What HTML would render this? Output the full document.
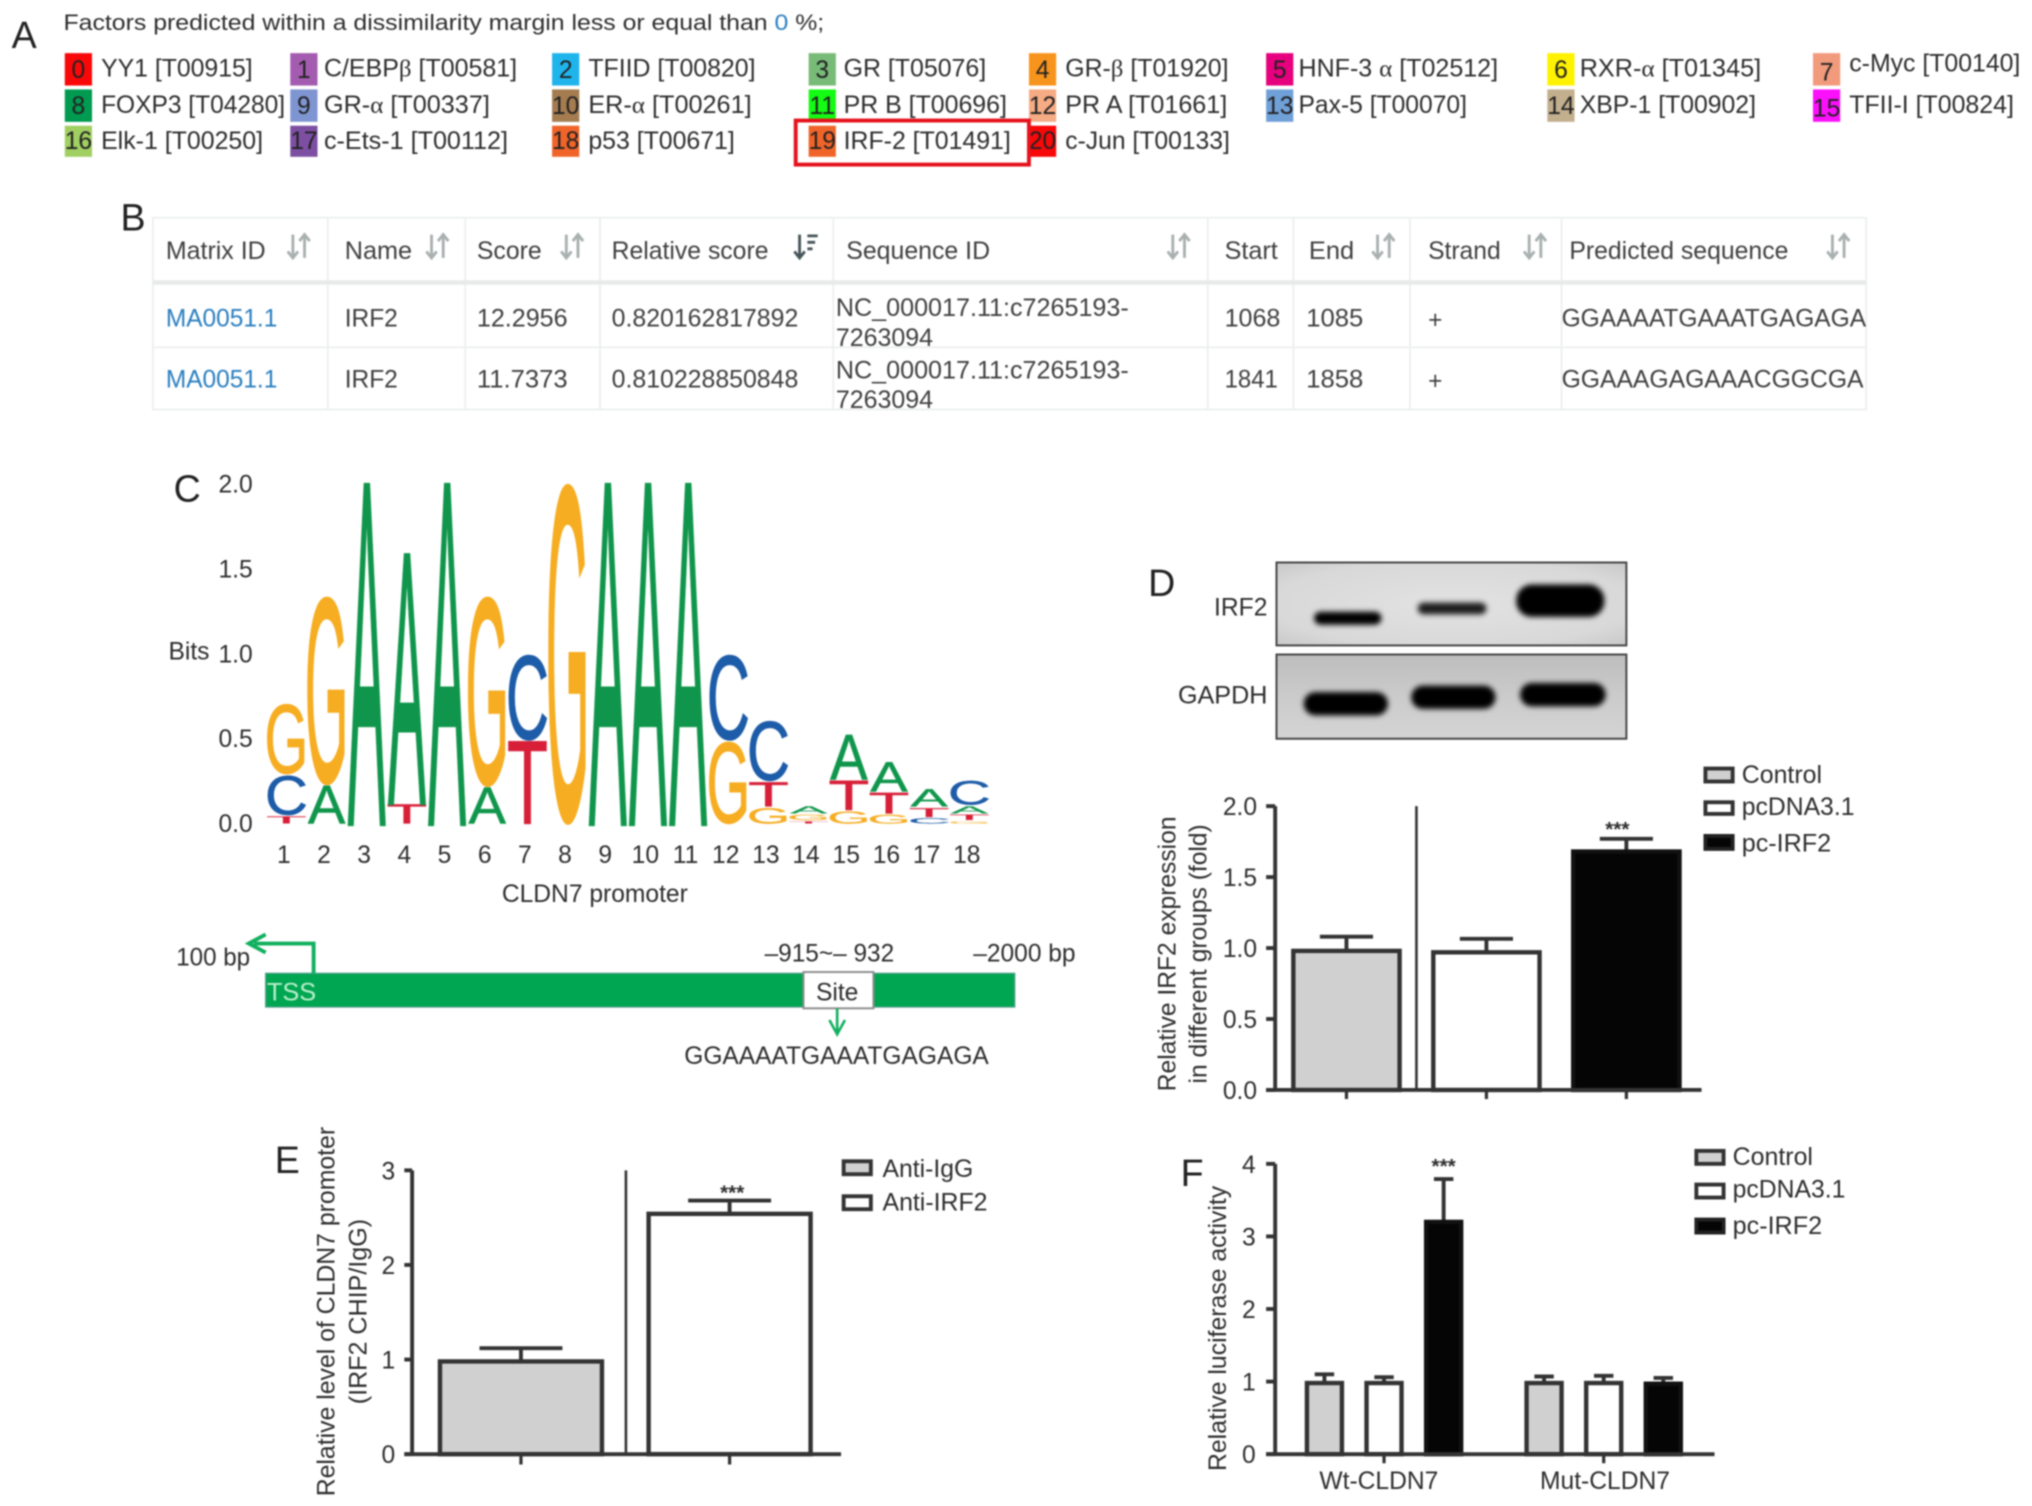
<!DOCTYPE html>
<html lang="en">
<head>
<meta charset="utf-8">
<title>IRF2 binding to the CLDN7 promoter figure</title>
<style>
html,body{margin:0;padding:0;background:#fff;width:2032px;height:1506px;overflow:hidden}
svg{display:block;filter:blur(0.8px)}
text{font-family:"Liberation Sans",sans-serif;fill:#2e2e2e}
.p{font-size:29px;fill:#222}
.a{font-size:19px;fill:#2e2e2e}
.n{font-size:19px;fill:#222;text-anchor:middle}
.g{font-family:"Liberation Serif",serif}
.t{font-size:19px;fill:#404040}
.link{fill:#2a7fc0}
.sort{stroke:#a9b0b0;stroke-width:2.2;fill:none}
.sortd{stroke:#47555a;stroke-width:2.2;fill:none}
.rl{stroke:#eef0f0;stroke-width:1.5;fill:none}
.leg{font-size:19px;fill:#2e2e2e}
</style>
</head>
<body>
<svg id="figure" xmlns="http://www.w3.org/2000/svg" width="2032" height="1506" viewBox="0 0 1568 1162" preserveAspectRatio="none">
<defs>
<filter id="band-blur" x="-30%" y="-80%" width="160%" height="260%"><feGaussianBlur stdDeviation="2"/></filter>
<radialGradient id="blot-a" cx="0.5" cy="0.5" r="0.75"><stop offset="0" stop-color="#e2e2e2"/><stop offset="0.7" stop-color="#d8d8d8"/><stop offset="1" stop-color="#c4c4c4"/></radialGradient>
<linearGradient id="blot-b" x1="0" y1="0" x2="0" y2="1"><stop offset="0" stop-color="#bdbdbd"/><stop offset="0.5" stop-color="#cbcbcb"/><stop offset="1" stop-color="#d4d4d4"/></linearGradient>
</defs>

<!-- Panel letters -->
<text class="p" x="9" y="37">A</text>
<text class="p" x="93" y="178">B</text>
<text class="p" x="134" y="387">C</text>
<text class="p" x="886" y="460">D</text>
<text class="p" x="212" y="905">E</text>
<text class="p" x="911" y="915">F</text>

<!-- Panel A -->
<g>
<text x="49" y="23" font-size="17" textLength="587" lengthAdjust="spacingAndGlyphs">Factors predicted within a dissimilarity margin less or equal than <tspan class="link">0</tspan> %;</text>

<g><rect x="50" y="41" width="21" height="25" fill="#f80808"/><text class="n" x="60.5" y="60">0</text><text class="a" x="78" y="59" textLength="117" lengthAdjust="spacingAndGlyphs">YY1 [T00915]</text></g>
<g><rect x="224" y="41" width="21" height="25" fill="#a45cb0"/><text class="n" x="234.5" y="60">1</text><text class="a" x="250" y="59" textLength="149" lengthAdjust="spacingAndGlyphs">C/EBP<tspan class="g">β</tspan> [T00581]</text></g>
<g><rect x="426" y="41" width="21" height="25" fill="#1fb5ec"/><text class="n" x="436.5" y="60">2</text><text class="a" x="454" y="59" textLength="129" lengthAdjust="spacingAndGlyphs">TFIID [T00820]</text></g>
<g><rect x="624" y="41" width="21" height="25" fill="#78bb78"/><text class="n" x="634.5" y="60">3</text><text class="a" x="651" y="59" textLength="110" lengthAdjust="spacingAndGlyphs">GR [T05076]</text></g>
<g><rect x="794" y="41" width="21" height="25" fill="#f7941d"/><text class="n" x="804.5" y="60">4</text><text class="a" x="822" y="59" textLength="126" lengthAdjust="spacingAndGlyphs">GR-<tspan class="g">β</tspan> [T01920]</text></g>
<g><rect x="977" y="41" width="21" height="25" fill="#e6007e"/><text class="n" x="987.5" y="60">5</text><text class="a" x="1002" y="59" textLength="154" lengthAdjust="spacingAndGlyphs">HNF-3 <tspan class="g">α</tspan> [T02512]</text></g>
<g><rect x="1194" y="41" width="21" height="25" fill="#fff200"/><text class="n" x="1204.5" y="60">6</text><text class="a" x="1219" y="59" textLength="140" lengthAdjust="spacingAndGlyphs">RXR-<tspan class="g">α</tspan> [T01345]</text></g>
<g><rect x="1399" y="41" width="21" height="25" fill="#f19a7c"/><text class="n" x="1409.5" y="62">7</text><text class="a" x="1427" y="55" textLength="132" lengthAdjust="spacingAndGlyphs">c-Myc [T00140]</text></g>

<g><rect x="50" y="69" width="21" height="25" fill="#009a50"/><text class="n" x="60.5" y="88">8</text><text class="a" x="78" y="87" textLength="142" lengthAdjust="spacingAndGlyphs">FOXP3 [T04280]</text></g>
<g><rect x="224" y="69" width="21" height="25" fill="#7f95d2"/><text class="n" x="234.5" y="88">9</text><text class="a" x="250" y="87" textLength="128" lengthAdjust="spacingAndGlyphs">GR-<tspan class="g">α</tspan> [T00337]</text></g>
<g><rect x="426" y="69" width="21" height="25" fill="#a47c50"/><text class="n" x="436.5" y="88">10</text><text class="a" x="454" y="87" textLength="126" lengthAdjust="spacingAndGlyphs">ER-<tspan class="g">α</tspan> [T00261]</text></g>
<g><rect x="624" y="69" width="21" height="25" fill="#14fb14"/><text class="n" x="634.5" y="88">11</text><text class="a" x="651" y="87" textLength="126" lengthAdjust="spacingAndGlyphs">PR B [T00696]</text></g>
<g><rect x="794" y="69" width="21" height="25" fill="#f5ab84"/><text class="n" x="804.5" y="88">12</text><text class="a" x="822" y="87" textLength="125" lengthAdjust="spacingAndGlyphs">PR A [T01661]</text></g>
<g><rect x="977" y="69" width="21" height="25" fill="#70a0d8"/><text class="n" x="987.5" y="88">13</text><text class="a" x="1002" y="87" textLength="130" lengthAdjust="spacingAndGlyphs">Pax-5 [T00070]</text></g>
<g><rect x="1194" y="69" width="21" height="25" fill="#c2af8e"/><text class="n" x="1204.5" y="88">14</text><text class="a" x="1219" y="87" textLength="136" lengthAdjust="spacingAndGlyphs">XBP-1 [T00902]</text></g>
<g><rect x="1399" y="69" width="21" height="25" fill="#fb10fb"/><text class="n" x="1409.5" y="90">15</text><text class="a" x="1427" y="87" textLength="127" lengthAdjust="spacingAndGlyphs">TFII-I [T00824]</text></g>

<g><rect x="50" y="97" width="21" height="24" fill="#a0cf62"/><text class="n" x="60.5" y="115">16</text><text class="a" x="78" y="115" textLength="125" lengthAdjust="spacingAndGlyphs">Elk-1 [T00250]</text></g>
<g><rect x="224" y="97" width="21" height="24" fill="#7c4fa2"/><text class="n" x="234.5" y="115">17</text><text class="a" x="250" y="115" textLength="142" lengthAdjust="spacingAndGlyphs">c-Ets-1 [T00112]</text></g>
<g><rect x="426" y="97" width="21" height="24" fill="#f0642a"/><text class="n" x="436.5" y="115">18</text><text class="a" x="454" y="115" textLength="113" lengthAdjust="spacingAndGlyphs">p53 [T00671]</text></g>
<g><rect x="624" y="97" width="21" height="24" fill="#f0642a"/><text class="n" x="634.5" y="115">19</text><text class="a" x="651" y="115" textLength="129" lengthAdjust="spacingAndGlyphs">IRF-2 [T01491]</text></g>
<g><rect x="794" y="97" width="21" height="24" fill="#f80808"/><text class="n" x="804.5" y="115">20</text><text class="a" x="822" y="115" textLength="127" lengthAdjust="spacingAndGlyphs">c-Jun [T00133]</text></g>
<rect x="614" y="93" width="180" height="34" fill="none" stroke="#e5121c" stroke-width="3"/>
</g>

<!-- Panel B -->
<g>
<rect class="rl" x="118" y="168" width="1322" height="148"/>
<path class="rl" d="M253 168V316M359 168V316M463 168V316M643 168V316M932 168V316M998 168V316M1088 168V316M1205 168V316M118 268H1440"/>
<path d="M118 218H1440" stroke="#e8eaea" stroke-width="3.5" fill="none"/>

<text class="t" x="128" y="200" textLength="77" lengthAdjust="spacingAndGlyphs">Matrix ID</text>
<text class="t" x="266" y="200" textLength="52" lengthAdjust="spacingAndGlyphs">Name</text>
<text class="t" x="368" y="200" textLength="50" lengthAdjust="spacingAndGlyphs">Score</text>
<text class="t" x="472" y="200" textLength="121" lengthAdjust="spacingAndGlyphs">Relative score</text>
<text class="t" x="653" y="200" textLength="111" lengthAdjust="spacingAndGlyphs">Sequence ID</text>
<text class="t" x="945" y="200" textLength="41" lengthAdjust="spacingAndGlyphs">Start</text>
<text class="t" x="1010" y="200" textLength="35" lengthAdjust="spacingAndGlyphs">End</text>
<text class="t" x="1102" y="200" textLength="56" lengthAdjust="spacingAndGlyphs">Strand</text>
<text class="t" x="1211" y="200" textLength="169" lengthAdjust="spacingAndGlyphs">Predicted sequence</text>

<path class="sort" d="M226 181V198M222 194l4 5 4-5M235 199V182M231 186l4-5 4 5"/>
<path class="sort" d="M333 181V198M329 194l4 5 4-5M342 199V182M338 186l4-5 4 5"/>
<path class="sort" d="M437 181V198M433 194l4 5 4-5M446 199V182M442 186l4-5 4 5"/>
<path class="sortd" d="M617 181V198M613 194l4 5 4-5M623 182H631M623 187H629M623 192H627"/>
<path class="sort" d="M905 181V198M901 194l4 5 4-5M914 199V182M910 186l4-5 4 5"/>
<path class="sort" d="M1063 181V198M1059 194l4 5 4-5M1072 199V182M1068 186l4-5 4 5"/>
<path class="sort" d="M1180 181V198M1176 194l4 5 4-5M1189 199V182M1185 186l4-5 4 5"/>
<path class="sort" d="M1414 181V198M1410 194l4 5 4-5M1423 199V182M1419 186l4-5 4 5"/>

<g>
<text class="link" font-size="19" x="128" y="252" textLength="86" lengthAdjust="spacingAndGlyphs">MA0051.1</text>
<text class="t" x="266" y="252" textLength="41" lengthAdjust="spacingAndGlyphs">IRF2</text>
<text class="t" x="368" y="252" textLength="70" lengthAdjust="spacingAndGlyphs">12.2956</text>
<text class="t" x="472" y="252" textLength="144" lengthAdjust="spacingAndGlyphs">0.820162817892</text>
<text class="t" x="645" y="244" textLength="226" lengthAdjust="spacingAndGlyphs">NC_000017.11:c7265193-</text>
<text class="t" x="645" y="267" textLength="75" lengthAdjust="spacingAndGlyphs">7263094</text>
<text class="t" x="945" y="252" textLength="43" lengthAdjust="spacingAndGlyphs">1068</text>
<text class="t" x="1008" y="252" textLength="44" lengthAdjust="spacingAndGlyphs">1085</text>
<text class="t" x="1102" y="253" textLength="11" lengthAdjust="spacingAndGlyphs">+</text>
<text class="t" x="1205" y="252" textLength="235" lengthAdjust="spacingAndGlyphs">GGAAAATGAAATGAGAGA</text>
</g>
<g>
<text class="link" font-size="19" x="128" y="299" textLength="86" lengthAdjust="spacingAndGlyphs">MA0051.1</text>
<text class="t" x="266" y="299" textLength="41" lengthAdjust="spacingAndGlyphs">IRF2</text>
<text class="t" x="368" y="299" textLength="70" lengthAdjust="spacingAndGlyphs">11.7373</text>
<text class="t" x="472" y="299" textLength="144" lengthAdjust="spacingAndGlyphs">0.810228850848</text>
<text class="t" x="645" y="292" textLength="226" lengthAdjust="spacingAndGlyphs">NC_000017.11:c7265193-</text>
<text class="t" x="645" y="315" textLength="75" lengthAdjust="spacingAndGlyphs">7263094</text>
<text class="t" x="945" y="299" textLength="41" lengthAdjust="spacingAndGlyphs">1841</text>
<text class="t" x="1008" y="299" textLength="44" lengthAdjust="spacingAndGlyphs">1858</text>
<text class="t" x="1102" y="300" textLength="11" lengthAdjust="spacingAndGlyphs">+</text>
<text class="t" x="1205" y="299" textLength="233" lengthAdjust="spacingAndGlyphs">GGAAAGAGAAACGGCGA</text>
</g>
</g>

<!-- Panel C logo container, filled by script -->
<g id="logo"></g>

<!-- Promoter diagram -->
<g>
<rect x="205" y="751" width="578" height="26" fill="#00a651" stroke="#4f9f88" stroke-width="1"/>
<path d="M242 751V728H196" stroke="#12b060" stroke-width="3" fill="none"/>
<path d="M205 721L192 728L205 735" stroke="#12b060" stroke-width="3" fill="none"/>
<text x="206" y="772" font-size="19" style="fill:#b9f0cc" textLength="38" lengthAdjust="spacingAndGlyphs">TSS</text>
<text x="136" y="745" font-size="19" textLength="57" lengthAdjust="spacingAndGlyphs">100 bp</text>
<text x="590" y="742" font-size="19" textLength="100" lengthAdjust="spacingAndGlyphs">–915~– 932</text>
<text x="751" y="742" font-size="19" textLength="79" lengthAdjust="spacingAndGlyphs">–2000 bp</text>
<rect x="620" y="750" width="54" height="28" fill="#fff" stroke="#8c8c8c" stroke-width="1.5"/>
<text x="646" y="772" font-size="19" text-anchor="middle">Site</text>
<path d="M646 778V797M640 787L646 798L652 787" stroke="#12b060" stroke-width="2" fill="none"/>
<text x="528" y="821" font-size="19" textLength="235" lengthAdjust="spacingAndGlyphs">GGAAAATGAAATGAGAGA</text>
</g>

<!-- Western blot -->
<g>
<rect x="985" y="434" width="270" height="64" fill="url(#blot-a)" stroke="#444" stroke-width="1.5"/>
<rect x="985" y="505" width="270" height="65" fill="url(#blot-b)" stroke="#444" stroke-width="1.5"/>
<g filter="url(#band-blur)" fill="#060606">
<rect x="1014" y="472" width="52" height="10" rx="5"/>
<rect x="1094" y="465" width="53" height="9" rx="4.5" fill="#1c1c1c"/>
<rect x="1170" y="451" width="68" height="25" rx="12"/>
<rect x="1006" y="534" width="65" height="18" rx="9"/>
<rect x="1089" y="529" width="65" height="18" rx="9"/>
<rect x="1173" y="527" width="66" height="18" rx="9"/>
</g>
<text x="978" y="475" font-size="19" text-anchor="end">IRF2</text>
<text x="909" y="543" font-size="19" textLength="69" lengthAdjust="spacingAndGlyphs">GAPDH</text>
</g>

<!-- Chart D -->
<g id="chart-d">
<text transform="translate(907,736) rotate(-90)" font-size="19" text-anchor="middle" textLength="212" lengthAdjust="spacingAndGlyphs">Relative IRF2 expression</text>
<text transform="translate(931,736) rotate(-90)" font-size="19" text-anchor="middle" textLength="200" lengthAdjust="spacingAndGlyphs">in different groups (fold)</text>
<g>
<rect x="1316" y="593" width="21" height="10" fill="#d0d0d0" stroke="#333" stroke-width="3"/>
<text class="leg" x="1344" y="604" textLength="62" lengthAdjust="spacingAndGlyphs">Control</text>
<rect x="1316" y="619" width="21" height="9" fill="#fff" stroke="#333" stroke-width="3"/>
<text class="leg" x="1344" y="629" textLength="87" lengthAdjust="spacingAndGlyphs">pcDNA3.1</text>
<rect x="1316" y="645" width="21" height="10" fill="#050505" stroke="#222" stroke-width="3"/>
<text class="leg" x="1344" y="657" textLength="69" lengthAdjust="spacingAndGlyphs">pc-IRF2</text>
</g>
</g>

<!-- Chart E -->
<g id="chart-e">
<text transform="translate(258,1012) rotate(-90)" font-size="19" text-anchor="middle" textLength="285" lengthAdjust="spacingAndGlyphs">Relative level of CLDN7 promoter</text>
<text transform="translate(283,1012) rotate(-90)" font-size="19" text-anchor="middle" textLength="143" lengthAdjust="spacingAndGlyphs">(IRF2 CHIP/IgG)</text>
<g>
<rect x="651" y="896" width="21" height="10" fill="#d0d0d0" stroke="#333" stroke-width="3"/>
<text class="leg" x="681" y="908" textLength="70" lengthAdjust="spacingAndGlyphs">Anti-IgG</text>
<rect x="651" y="923" width="21" height="10" fill="#fff" stroke="#333" stroke-width="3"/>
<text class="leg" x="681" y="934" textLength="81" lengthAdjust="spacingAndGlyphs">Anti-IRF2</text>
</g>
</g>

<!-- Chart F -->
<g id="chart-f">
<text transform="translate(946,1025) rotate(-90)" font-size="19" text-anchor="middle" textLength="220" lengthAdjust="spacingAndGlyphs">Relative luciferase activity</text>
<g>
<rect x="1309" y="888" width="21" height="10" fill="#d0d0d0" stroke="#333" stroke-width="3"/>
<text class="leg" x="1337" y="899" textLength="62" lengthAdjust="spacingAndGlyphs">Control</text>
<rect x="1309" y="914" width="21" height="10" fill="#fff" stroke="#333" stroke-width="3"/>
<text class="leg" x="1337" y="924" textLength="87" lengthAdjust="spacingAndGlyphs">pcDNA3.1</text>
<rect x="1309" y="941" width="21" height="10" fill="#050505" stroke="#222" stroke-width="3"/>
<text class="leg" x="1337" y="952" textLength="69" lengthAdjust="spacingAndGlyphs">pc-IRF2</text>
</g>
</g>
</svg>

<script>
// Sequence logo data (bits per letter, stacked bottom to top)
const logoPositions = ['1','2','3','4','5','6','7','8','9','10','11','12','13','14','15','16','17','18'];
const logoLetters = [['T','C','G'],['A','G'],['A'],['T','A'],['A'],['A','G'],['T','C'],['G'],['A'],['A'],['A'],['G','C'],['G','T','C'],['T','G','A'],['G','T','A'],['G','T','A'],['C','T','A'],['G','T','A','C']];
const logoBits = [[0.05,0.24,0.42],[0.23,1.11],[2.0],[0.12,1.47],[2.0],[0.22,1.12],[0.49,0.51],[2.0],[2.0],[2.0],[2.0],[0.49,0.51],[0.1,0.15,0.36],[0.02,0.04,0.05],[0.08,0.18,0.27],[0.06,0.13,0.18],[0.04,0.06,0.11],[0.02,0.04,0.05,0.15]];
const logoTicks = [0,0.5,1,1.5,2];
const logoTickLabels = ['0.0','0.5','1.0','1.5','2.0'];

// Chart D data
const dCategories = ['Control','pcDNA3.1','pc-IRF2'];
const dValues = [0.98,0.97,1.68];
const dErrorTops = [1.08,1.065,1.77];
const dTicks = [0,0.5,1,1.5,2];
const dTickLabels = ['0.0','0.5','1.0','1.5','2.0'];

// Chart E data
const eCategories = ['Anti-IgG','Anti-IRF2'];
const eValues = [0.98,2.54];
const eErrorTops = [1.12,2.68];
const eTicks = [0,1,2,3];
const eTickLabels = ['0','1','2','3'];

// Chart F data
const fGroups = ['Wt-CLDN7','Mut-CLDN7'];
const fSeries = ['Control','pcDNA3.1','pc-IRF2'];
const fValues = [[0.98,0.98,3.2],[0.98,0.98,0.97]];
const fErrorTops = [[1.1,1.06,3.79],[1.07,1.08,1.05]];
const fTicks = [0,1,2,3,4];
const fTickLabels = ['0','1','2','3','4'];

const NS = 'http://www.w3.org/2000/svg';
function mk(tag, attrs, parent){
  const el = document.createElementNS(NS, tag);
  for (const k in attrs) el.setAttribute(k, attrs[k]);
  parent.appendChild(el);
  return el;
}

// Axis functions
const yLogo = b => 636 - b * 131;
const xLogo = i => 221 + i * 31;
const yD = v => 841 - v * 109.5;
const xD = i => 1039 + i * 108;
const yE = v => 1122 - v * 73;
const xE = i => 402 + i * 161;
const yF = v => 1122 - v * 56;
const xF = (g, s) => 1068 + g * 169.5 + (s - 1) * 46;

const letterColors = {A:'#10964c',C:'#1d5ca8',G:'#f6ad22',T:'#d81f38'};
const letterInk = {A:0.68,C:0.64,G:0.68,T:0.57};
const letterCap = {A:0.688,C:0.712,G:0.712,T:0.688};
const letterDrop = {A:0,C:0.012,G:0.012,T:0};

function drawLogo(){
  const root = document.getElementById('logo');
  logoLetters.forEach((stack, i) => {
    let base = 0;
    stack.forEach((letter, j) => {
      const bits = logoBits[i][j];
      const sx = 29.5 / (letterInk[letter] * 100);
      const sy = (bits * 131 - 1) / (letterCap[letter] * 100);
      const yb = yLogo(base) - 0.5 - letterDrop[letter] * 100 * sy;
      const el = mk('text', {
        transform: 'translate(' + xLogo(i) + ',' + yb + ') scale(' + sx + ',' + sy + ')',
        'font-size': 100,
        'text-anchor': 'middle',
        stroke: letterColors[letter],
        'stroke-width': 1,
        'vector-effect': 'non-scaling-stroke',
        'text-rendering': 'geometricPrecision',
        style: 'fill:' + letterColors[letter]
      }, root);
      el.textContent = letter;
      
      
      base += bits;
    });
    const lab = mk('text', {x: xLogo(i) - 2, y: 666, 'font-size': 19, 'text-anchor': 'middle'}, root);
    lab.textContent = logoPositions[i];
    
    
  });
  logoTicks.forEach((t, i) => {
    const lab = mk('text', {x: 195, y: yLogo(t) + 6, 'font-size': 19, 'text-anchor': 'end'}, root);
    lab.textContent = logoTickLabels[i];
    
    
  });
  const bits = mk('text', {x: 130, y: 509, 'font-size': 19}, root);
  bits.textContent = 'Bits';
  
  
  const title = mk('text', {x: 459, y: 696, 'font-size': 19, 'text-anchor': 'middle'}, root);
  title.textContent = 'CLDN7 promoter';
  
  
}

function drawAxes(root, yFn, ticks, labels, axisX, x0, x1, labelX, topValue){
  const yAxis = mk('line', {x1: axisX, x2: axisX, y1: yFn(topValue), y2: yFn(0), stroke: '#333', 'stroke-width': 3}, root);
  
  
  const xAxis = mk('line', {x1: x0, x2: x1, y1: yFn(0), y2: yFn(0), stroke: '#333', 'stroke-width': 3}, root);
  
  
  ticks.forEach((t, i) => {
    const tick = mk('line', {x1: x0, x2: axisX, y1: yFn(t), y2: yFn(t), stroke: '#333', 'stroke-width': 3}, root);
    
    
    const lab = mk('text', {x: labelX, y: yFn(t) + 7, 'font-size': 19, 'text-anchor': 'end'}, root);
    lab.textContent = labels[i];
    
    
  });
}

function drawBar(root, xc, w, capW, value, top, yFn, fill, stroke){
  const err = mk('line', {x1: xc, x2: xc, y1: yFn(value), y2: yFn(top), stroke: '#333', 'stroke-width': 3}, root);
  
  
  const cap = mk('line', {x1: xc - capW / 2, x2: xc + capW / 2, y1: yFn(top), y2: yFn(top), stroke: '#333', 'stroke-width': 3}, root);
  
  
  const bar = mk('rect', {x: xc - w / 2, y: yFn(value), width: w, height: yFn(0) - yFn(value), fill: fill, stroke: stroke, 'stroke-width': 3.4}, root);
  
  
}

function xTick(root, x, y, len){
  const t = mk('line', {x1: x, x2: x, y1: y, y2: y + len, stroke: '#333', 'stroke-width': 2.5}, root);
  
  
}

function stars(root, x, y){
  const s = mk('text', {x: x, y: y, 'font-size': 16, 'font-weight': 'bold', 'text-anchor': 'middle'}, root);
  s.textContent = '***';
  
  
}

function separator(root, x, yTop, yBottom){
  const s = mk('line', {x1: x, x2: x, y1: yTop, y2: yBottom, stroke: '#333', 'stroke-width': 2}, root);
  
  
}

const fills = ['#d0d0d0','#ffffff','#050505'];
const strokes = ['#333','#333','#111'];

function drawD(){
  const root = document.getElementById('chart-d');
  dCategories.forEach((c, i) => {
    drawBar(root, xD(i), 82, 41, dValues[i], dErrorTops[i], yD, fills[i], strokes[i]);
    xTick(root, xD(i), yD(0), 7);
  });
  separator(root, 1093, yD(2), yD(0));
  drawAxes(root, yD, dTicks, dTickLabels, 984, 977, 1313, 970, 2);
  stars(root, xD(2) - 7, yD(dErrorTops[2]) - 2);
}

function drawE(){
  const root = document.getElementById('chart-e');
  eCategories.forEach((c, i) => {
    drawBar(root, xE(i), 125, 64, eValues[i], eErrorTops[i], yE, i === 0 ? fills[0] : fills[1], '#333');
    xTick(root, xE(i), yE(0), 8);
  });
  separator(root, 483, yE(3), yE(0));
  drawAxes(root, yE, eTicks, eTickLabels, 318, 312, 649, 305, 3);
  stars(root, xE(1) + 2, yE(eErrorTops[1]) - 1);
}

function drawF(){
  const root = document.getElementById('chart-f');
  fGroups.forEach((g, gi) => {
    fSeries.forEach((s, si) => {
      drawBar(root, xF(gi, si), 27, 15, fValues[gi][si], fErrorTops[gi][si], yF, fills[si], strokes[si]);
    });
    xTick(root, xF(gi, 1), yF(0), 7);
    const lab = mk('text', {x: xF(gi, 1) - 4 + gi * 5, y: 1149, 'font-size': 19, 'text-anchor': 'middle'}, root);
    lab.textContent = g;
    
    
  });
  drawAxes(root, yF, fTicks, fTickLabels, 984, 977, 1323, 969, 4);
  stars(root, xF(0, 2), yF(4) + 7);
}

drawLogo();
drawD();
drawE();
drawF();
</script>
</body>
</html>
